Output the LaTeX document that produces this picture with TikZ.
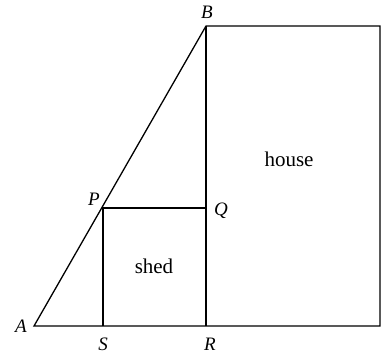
\documentclass[tikz,border=0pt]{standalone}
\usepackage{fontspec}
\setmainfont{Liberation Serif}
\begin{document}
\begin{tikzpicture}[x=1pt, y=-1pt,
    every node/.style={inner sep=0pt, anchor=base},
    pt/.style={font=\fontsize{19}{21}\selectfont\itshape},
    word/.style={font=\fontsize{21}{24}\selectfont},
    edge/.style={line width=1.3pt, line join=miter}
]
\useasboundingbox (0,0) rectangle (382,361);
% corner points
\coordinate (A) at (34,326);
\coordinate (B) at (206,26);
\coordinate (R) at (206,326);
\coordinate (S) at (103,326);
\coordinate (P) at (103,208);
\coordinate (Q) at (206,208);
\coordinate (T) at (380,26);
\coordinate (U) at (380,326);
% outline
\draw[edge] (A) -- (B) -- (T) -- (U) -- cycle;
\draw[edge] (B) -- (R);
\draw[edge] (S) -- (P) -- (Q);
% labels
\node[pt] (lA) at (21,332) {A};
\node[pt] (lB) at (207,19) {B};
\node[pt] (lP) at (94,205) {P};
\node[pt] (lQ) at (221,215) {Q};
\node[pt] (lS) at (103,350) {S};
\node[pt] (lR) at (210,350) {R};
\node[word] (house) at (289,166) {house};
\node[word] (shed) at (154,273) {shed};
\end{tikzpicture}
\end{document}
